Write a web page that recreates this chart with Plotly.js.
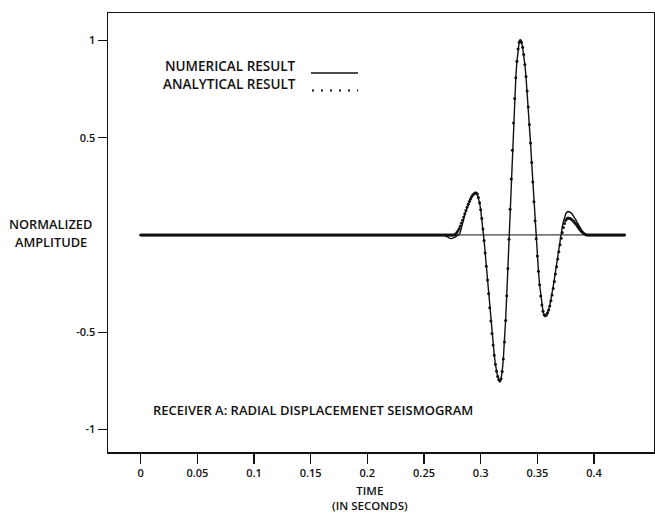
<!DOCTYPE html>
<html><head><meta charset="utf-8">
<script src="https://cdn.plot.ly/plotly-3.0.1.min.js"></script>
<style>html,body{margin:0;padding:0;background:#fff;} #chart{width:655px;height:517px;}</style>
</head><body><div id="chart"></div>
<script>
// sampling of the seismograms (seconds)
const startTime = 0;
const sampleInterval = 0.001;

// NUMERICAL RESULT, one value per sample, t = 0.000 ... 0.427 s
const numericalAmplitude = [
0,0,0,0,0,0,0,0,0,0,
0,0,0,0,0,0,0,0,0,0,
0,0,0,0,0,0,0,0,0,0,
0,0,0,0,0,0,0,0,0,0,
0,0,0,0,0,0,0,0,0,0,
0,0,0,0,0,0,0,0,0,0,
0,0,0,0,0,0,0,0,0,0,
0,0,0,0,0,0,0,0,0,0,
0,0,0,0,0,0,0,0,0,0,
0,0,0,0,0,0,0,0,0,0,
0,0,0,0,0,0,0,0,0,0,
0,0,0,0,0,0,0,0,0,0,
0,0,0,0,0,0,0,0,0,0,
0,0,0,0,0,0,0,0,0,0,
0,0,0,0,0,0,0,0,0,0,
0,0,0,0,0,0,0,0,0,0,
0,0,0,0,0,0,0,0,0,0,
0,0,0,0,0,0,0,0,0,0,
0,0,0,0,0,0,0,0,0,0,
0,0,0,0,0,0,0,0,0,0,
0,0,0,0,0,0,0,0,0,0,
0,0,0,0,0,0,0,0,0,0,
0,0,0,0,0,0,0,0,0,0,
0,0,0,0,0,0,0,0,0,0,
0,0,0,0,0,0,0,0,0,0,
0,0,0,0,0,0,0,0,0,0,
0,0,0,0,0,0,0,
0,-0.002,-0.005,-0.009,-0.013,-0.016,-0.018,-0.019,-0.018,-0.016,
-0.013,-0.009,-0.006,-0.003,0.002,0.014,0.033,0.056,0.080,0.103,
0.124,0.142,0.158,0.172,0.185,0.196,0.205,0.211,0.215,0.216,
0.210,0.193,0.166,0.130,0.084,0.031,-0.028,-0.093,-0.161,-0.232,
-0.303,-0.374,-0.442,-0.507,-0.566,-0.619,-0.665,-0.701,-0.728,-0.745,
-0.751,-0.740,-0.702,-0.638,-0.550,-0.440,-0.313,-0.173,-0.022,0.132,
0.287,0.436,0.576,0.701,0.808,0.893,0.956,0.991,1.000,0.990,
0.965,0.927,0.876,0.814,0.740,0.658,0.568,0.472,0.373,0.272,
0.171,0.073,-0.020,-0.108,-0.187,-0.256,-0.314,-0.360,-0.393,-0.411,
-0.416,-0.411,-0.401,-0.384,-0.361,-0.334,-0.302,-0.266,-0.228,-0.187,
-0.146,-0.105,-0.064,-0.026,0.009,0.041,0.068,0.090,0.107,0.116,
0.120,0.119,0.116,0.112,0.105,0.097,0.087,0.077,0.066,0.055,
0.044,0.034,0.024,0.016,0.009,0.004,0.001,
0,0,0,0,0,0,0,0,0,0,
0,0,0,0,0,0,0,0,0,0,
0,0,0,0,0,0,0,0,0,0,
0,0,0,0
];

// ANALYTICAL RESULT, one value per sample, t = 0.000 ... 0.427 s
const analyticalAmplitude = [
0,0,0,0,0,0,0,0,0,0,
0,0,0,0,0,0,0,0,0,0,
0,0,0,0,0,0,0,0,0,0,
0,0,0,0,0,0,0,0,0,0,
0,0,0,0,0,0,0,0,0,0,
0,0,0,0,0,0,0,0,0,0,
0,0,0,0,0,0,0,0,0,0,
0,0,0,0,0,0,0,0,0,0,
0,0,0,0,0,0,0,0,0,0,
0,0,0,0,0,0,0,0,0,0,
0,0,0,0,0,0,0,0,0,0,
0,0,0,0,0,0,0,0,0,0,
0,0,0,0,0,0,0,0,0,0,
0,0,0,0,0,0,0,0,0,0,
0,0,0,0,0,0,0,0,0,0,
0,0,0,0,0,0,0,0,0,0,
0,0,0,0,0,0,0,0,0,0,
0,0,0,0,0,0,0,0,0,0,
0,0,0,0,0,0,0,0,0,0,
0,0,0,0,0,0,0,0,0,0,
0,0,0,0,0,0,0,0,0,0,
0,0,0,0,0,0,0,0,0,0,
0,0,0,0,0,0,0,0,0,0,
0,0,0,0,0,0,0,0,0,0,
0,0,0,0,0,0,0,0,0,0,
0,0,0,0,0,0,0,0,0,0,
0,0,0,0,0,0,0,0,0,0,
0,0,0,0,0,0,0,
0.001,0.005,0.012,0.021,0.032,0.045,0.060,0.075,0.092,0.109,
0.126,0.142,0.158,0.172,0.185,0.196,0.205,0.211,0.215,0.216,
0.210,0.193,0.166,0.130,0.084,0.031,-0.028,-0.093,-0.161,-0.232,
-0.303,-0.374,-0.442,-0.507,-0.566,-0.619,-0.665,-0.701,-0.728,-0.745,
-0.751,-0.740,-0.702,-0.638,-0.550,-0.440,-0.313,-0.173,-0.022,0.132,
0.287,0.436,0.576,0.701,0.808,0.893,0.956,0.991,1.000,0.990,
0.965,0.927,0.876,0.814,0.740,0.658,0.568,0.472,0.373,0.272,
0.171,0.073,-0.020,-0.108,-0.187,-0.256,-0.314,-0.360,-0.393,-0.411,
-0.416,-0.412,-0.402,-0.386,-0.365,-0.339,-0.309,-0.275,-0.239,-0.201,
-0.163,-0.124,-0.086,-0.050,-0.017,0.013,0.038,0.059,0.074,0.083,
0.087,0.086,0.084,0.081,0.076,0.070,0.063,0.056,0.048,0.040,
0.032,0.024,0.018,0.012,0.007,0.003,0.001,
0,0,0,0,0,0,0,0,0,0,
0,0,0,0,0,0,0,0,0,0,
0,0,0,0,0,0,0,0,0,0,
0,0,0,0
];

const timeTickValues = [0, 0.05, 0.1, 0.15, 0.2, 0.25, 0.3, 0.35, 0.4];
const timeTickLabels = ["0", "0.05", "0.1", "0.15", "0.2", "0.25", "0.3", "0.35", "0.4"];
const amplitudeTickValues = [-1, -0.5, 0.5, 1];
const amplitudeTickLabels = ["-1", "-0.5", "0.5", "1"];
const seriesNames = ["NUMERICAL RESULT", "ANALYTICAL RESULT"];
const captionText = "RECEIVER A: RADIAL DISPLACEMENET SEISMOGRAM";
const yTitleLines = ["NORMALIZED", "AMPLITUDE"];
const xTitleLines = ["TIME", "(IN SECONDS)"];

const endTime = startTime + sampleInterval * (numericalAmplitude.length - 1);
const ink = "#111";
const fam = "Open Sans, Arial, sans-serif";

const traces = [
  { type: "scatter", mode: "lines", x: [startTime, endTime], y: [0, 0],
    line: { color: ink, width: 1 }, hoverinfo: "skip", showlegend: false },
  { type: "scatter", mode: "lines", name: seriesNames[0],
    x0: startTime, dx: sampleInterval, y: numericalAmplitude,
    line: { color: ink, width: 1.4 }, showlegend: false },
  { type: "scatter", mode: "markers", name: seriesNames[1],
    x0: startTime, dx: sampleInterval, y: analyticalAmplitude,
    marker: { color: ink, size: 3 }, showlegend: false }
];

function ann(text, x, y, xanchor, size) {
  return { text: text, xref: "paper", yref: "paper", x: x, y: y,
    xanchor: xanchor, yanchor: "middle", showarrow: false, borderpad: 0,
    font: { family: fam, size: size, color: ink, weight: 600 } };
}

const layout = {
  width: 655, height: 517,
  margin: { l: 108, r: 1, t: 13, b: 65, pad: 0 },
  paper_bgcolor: "#fff", plot_bgcolor: "#fff",
  showlegend: false,
  xaxis: {
    range: [-0.02885, 0.45295], tickvals: timeTickValues, ticktext: timeTickLabels,
    ticks: "outside", ticklen: 10, tickwidth: 1.2, tickcolor: ink,
    showline: true, linecolor: ink, linewidth: 1.5, mirror: true,
    showgrid: false, zeroline: false,
    tickfont: { family: fam, size: 11, color: ink, weight: 600 }
  },
  yaxis: {
    range: [-1.116, 1.141], tickvals: amplitudeTickValues, ticktext: amplitudeTickLabels,
    ticks: "outside", ticklen: 9, tickwidth: 1.2, tickcolor: ink,
    showline: true, linecolor: ink, linewidth: 1.5, mirror: true,
    showgrid: false, zeroline: false,
    tickfont: { family: fam, size: 11, color: ink, weight: 600 }
  },
  annotations: [
    ann(seriesNames[0], 0.1026, 0.8793, "left", 13.5),
    ann(seriesNames[1], 0.0990, 0.8383, "left", 13.5),
    ann(captionText, 0.0806, 0.0957, "left", 13),
    ann(yTitleLines[0], -0.1044, 0.5194, "center", 12.8),
    ann(yTitleLines[1], -0.1044, 0.4784, "center", 12.8),
    ann(xTitleLines.join("<br>"), 0.4799, -0.1059, "center", 11.5)
  ],
  shapes: [
    { type: "line", xref: "paper", yref: "paper", x0: 0.3718, x1: 0.4579, y0: 0.8633, y1: 0.8633,
      line: { color: ink, width: 1.5 } },
    { type: "line", xref: "paper", yref: "paper", x0: 0.3736, x1: 0.4579, y0: 0.8235, y1: 0.8235,
      line: { color: ink, width: 2, dash: "2px,7px" } }
  ]
};

Plotly.newPlot("chart", traces, layout, { staticPlot: true, displayModeBar: false });
</script>
</body></html>
